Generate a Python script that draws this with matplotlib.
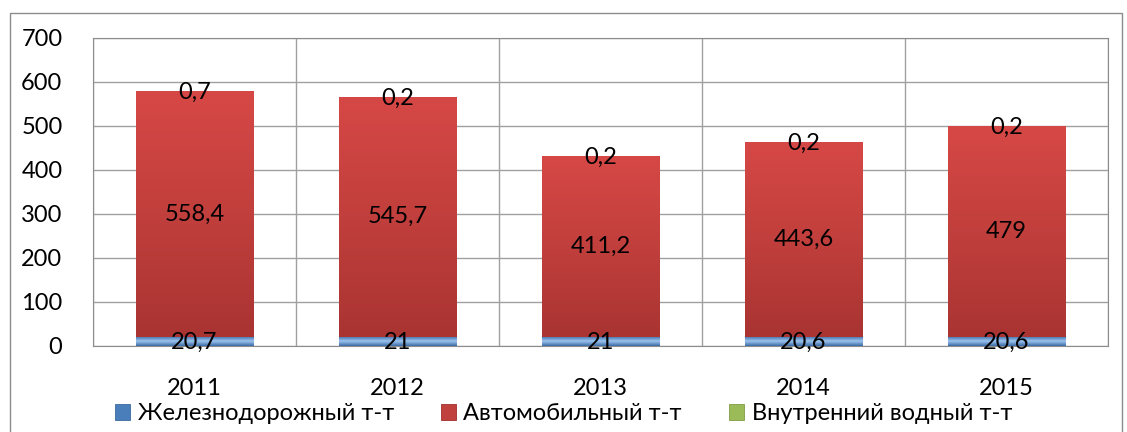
import numpy as np
import matplotlib
matplotlib.use("Agg")
from matplotlib import pyplot as plt
from matplotlib.patches import Rectangle
from matplotlib.colors import LinearSegmentedColormap

plt.rcParams['font.family'] = ['Lato', 'DejaVu Sans']

years = ['2011', '2012', '2013', '2014', '2015']
rail = [20.7, 21, 21, 20.6, 20.6]
auto = [558.4, 545.7, 411.2, 443.6, 479]
water = [0.7, 0.2, 0.2, 0.2, 0.2]
rail_lbl = ['20,7', '21', '21', '20,6', '20,6']
auto_lbl = ['558,4', '545,7', '411,2', '443,6', '479']
water_lbl = ['0,7', '0,2', '0,2', '0,2', '0,2']
series_names = ['Железнодорожный т-т', 'Автомобильный т-т', 'Внутренний водный т-т']

fig = plt.figure(figsize=(11.27, 4.32), dpi=100)
ax = fig.add_axes([93 / 1127, 1 - 346 / 432, (1108 - 93) / 1127, (346 - 38) / 432])

# outer frame of the chart
fig.patches.append(Rectangle((10 / 1127, -0.05), 1112 / 1127, 1 - 13 / 432 + 0.05,
                             transform=fig.transFigure, fill=False,
                             edgecolor='#8c8c8c', linewidth=1.0))

x = np.arange(len(years))
w = 0.58
b1 = ax.bar(x, rail, w, color='#4a7ebb', edgecolor='#3a6aa0', linewidth=0.6, zorder=3)
bottom2 = np.array(rail)
b2 = ax.bar(x, auto, w, bottom=bottom2, color='#c0403d', edgecolor='#9e2f2c', linewidth=0.6, zorder=3)
bottom3 = bottom2 + np.array(auto)
b3 = ax.bar(x, water, w, bottom=bottom3, color='#9bbb59', edgecolor='#7f9b45', linewidth=0.6, zorder=3)

# gradient shading on the bars
red_cm = LinearSegmentedColormap.from_list('r', ['#a93432', '#c13f3c', '#d64846'])
blue_cm = LinearSegmentedColormap.from_list('b', ['#3a6aa6', '#9cc3ee', '#3a6aa6'])
grad = np.linspace(0, 1, 256).reshape(-1, 1)
for p in b2:
    im = ax.imshow(grad, cmap=red_cm, aspect='auto', origin='lower', zorder=3.5,
                   extent=(p.get_x(), p.get_x() + p.get_width(), p.get_y(), p.get_y() + p.get_height()))
    im.set_clip_path(p)
for p in b1:
    im = ax.imshow(grad, cmap=blue_cm, aspect='auto', origin='lower', zorder=3.5,
                   extent=(p.get_x(), p.get_x() + p.get_width(), p.get_y(), p.get_y() + p.get_height()))
    im.set_clip_path(p)

fs = 17
for i in range(len(years)):
    ax.text(x[i], rail[i] / 2 - 2, rail_lbl[i], ha='center', va='center', fontsize=fs, zorder=5)
    ax.text(x[i], rail[i] + auto[i] / 2, auto_lbl[i], ha='center', va='center', fontsize=fs, zorder=5)
    ax.text(x[i], bottom3[i] + water[i] / 2 - 3, water_lbl[i], ha='center', va='center', fontsize=fs, zorder=5)

ax.set_xlim(-0.5, len(years) - 0.5)
ax.set_ylim(0, 700)
ax.set_yticks(np.arange(0, 701, 100))
ax.set_xticks(x)
ax.set_xticklabels(years)
ax.set_xticks(np.arange(-0.5, len(years), 1), minor=True)
ax.tick_params(axis='both', which='both', length=0, labelsize=fs)
ax.tick_params(axis='y', pad=22)
ax.tick_params(axis='x', pad=23)
ax.grid(axis='y', color='#a0a0a0', linewidth=1.0, zorder=0)
ax.grid(axis='x', which='minor', color='#a0a0a0', linewidth=1.0, zorder=0)
for s in ax.spines.values():
    s.set_color('#8c8c8c')

handles = [b1, b2, b3]
fig.legend(handles, series_names, loc='center', bbox_to_anchor=(0.5, 1 - 414 / 432), ncol=3,
           frameon=False, fontsize=fs, handlelength=0.65, handleheight=0.65, handletextpad=0.3,
           columnspacing=2.0)

fig.savefig('out.png', dpi=100)
